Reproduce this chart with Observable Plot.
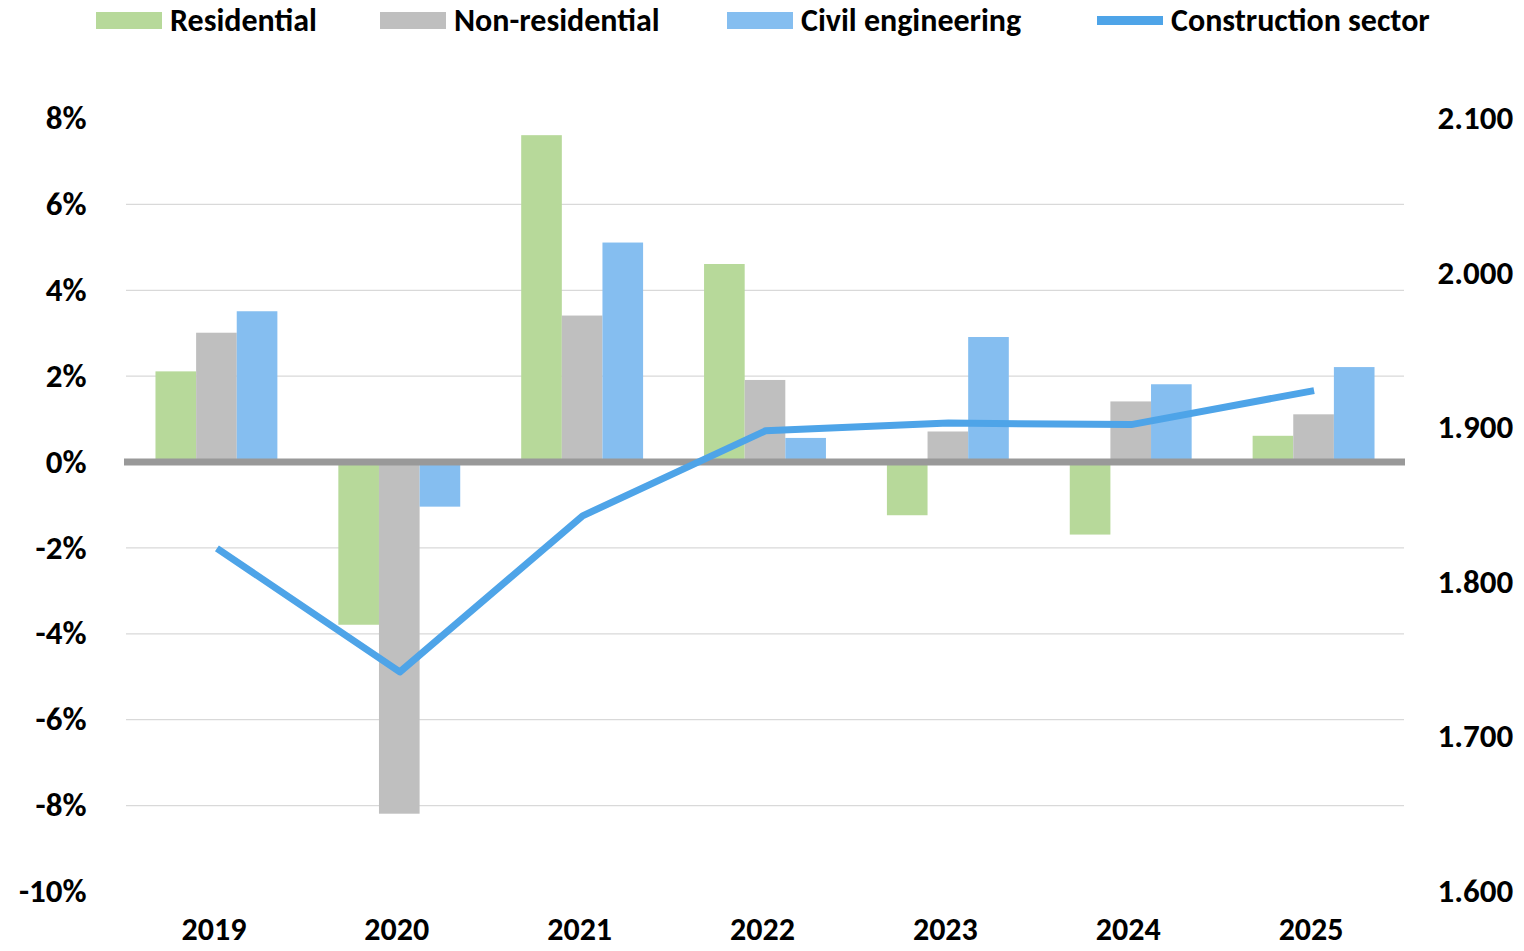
<!DOCTYPE html>
<html>
<head>
<meta charset="utf-8">
<script src="https://cdn.jsdelivr.net/npm/d3@7"></script>
<script src="https://cdn.jsdelivr.net/npm/@observablehq/plot@0.6"></script>
<style>
  html, body { margin: 0; padding: 0; background: #fff; }
  body { width: 1524px; height: 951px; overflow: hidden; font-family: Carlito, Lato, sans-serif; }
  #legend { position: relative; height: 40px; width: 1524px; }
  .item { position: absolute; top: 0; height: 40px; display: flex; align-items: center; font-weight: 700; font-size: 32px; color: #000; white-space: nowrap; }
  .sw { width: 66px; margin-right: 8px; }
</style>
</head>
<body>
<div id="legend"></div>
<div id="chart"></div>
<script>
const years = ["2019", "2020", "2021", "2022", "2023", "2024", "2025"];
const seriesNames = ["Residential", "Non-residential", "Civil engineering"];
const residential = [2.1, -3.8, 7.6, 4.6, -1.25, -1.7, 0.6];
const nonResidential = [3.0, -8.2, 3.4, 1.9, 0.7, 1.4, 1.1];
const civilEngineering = [3.5, -1.05, 5.1, 0.55, 2.9, 1.8, 2.2];
const lineName = "Construction sector";
const constructionSector = [1.822, 1.742, 1.843, 1.898, 1.903, 1.902, 1.924];
const leftTicks = [-10, -8, -6, -4, -2, 0, 2, 4, 6, 8];
const rightTicks = [1.6, 1.7, 1.8, 1.9, 2.0, 2.1];

const colors = ["#b7d99a", "#bfbfbf", "#85bef0"];
const lineColor = "#4ea4e8";

// map right-axis value onto the left-axis scale
const toLeft = v => -10 + (v - 1.6) * 36;
const fromLeft = p => (p + 10) / 36 + 1.6;

const seriesValues = [residential, nonResidential, civilEngineering];
const w = 0.2222;
const bars = [];
years.forEach((yr, i) => {
  seriesValues.forEach((vals, k) => {
    bars.push({i, k, series: seriesNames[k], value: vals[i], x1: i + (k - 1.5) * w, x2: i + (k - 0.5) * w});
  });
});
const lineData = years.map((yr, i) => ({i, value: constructionSector[i], y: toLeft(constructionSector[i])}));

// legend
const legend = document.getElementById("legend");
const legendItems = [
  {name: seriesNames[0], color: colors[0], left: 96, h: 17},
  {name: seriesNames[1], color: colors[1], left: 380, h: 17},
  {name: seriesNames[2], color: colors[2], left: 727, h: 17},
  {name: lineName, color: lineColor, left: 1097, h: 9}
];
legendItems.forEach(it => {
  const d = document.createElement("div");
  d.className = "item";
  d.style.left = it.left + "px";
  const s = document.createElement("span");
  s.className = "sw";
  s.style.height = it.h + "px";
  s.style.background = it.color;
  d.appendChild(s);
  d.appendChild(document.createTextNode(it.name));
  legend.appendChild(d);
});

const chart = Plot.plot({
  width: 1524,
  height: 911,
  marginTop: 78,
  marginBottom: 60,
  marginLeft: 125,
  marginRight: 119,
  style: {fontFamily: "Carlito, Lato, sans-serif", fontSize: "33px", fontWeight: 700, color: "#000", background: "#fff"},
  x: {type: "linear", domain: [-0.5, 6.5]},
  y: {domain: [-10, 8]},
  color: {domain: seriesNames, range: colors},
  marks: [
    Plot.ruleY(leftTicks.filter(d => d !== 0 && d !== 8 && d !== -10), {stroke: "#d9d9d9", strokeWidth: 1.3, insetLeft: 1, insetRight: 1}),
    Plot.rectY(bars, {x1: "x1", x2: "x2", y: "value", fill: "series"}),
    Plot.ruleY([0], {stroke: "#999999", strokeWidth: 7, insetLeft: -1}),
    Plot.line(lineData, {x: "i", y: "y", stroke: lineColor, strokeWidth: 7, strokeLinecap: "butt", strokeLinejoin: "round"}),
    Plot.axisY(leftTicks, {anchor: "left", tickSize: 0, tickPadding: 39, tickFormat: d => d + "%", label: null, fill: "#000"}),
    Plot.axisY(rightTicks.map(toLeft), {anchor: "right", tickSize: 0, tickPadding: 32, tickFormat: d => fromLeft(d).toFixed(3), label: null, fill: "#000"}),
    Plot.axisX(d3.range(years.length), {anchor: "bottom", tickSize: 0, tickPadding: 26, dx: -3, fontSize: 32, tickFormat: i => years[i], label: null, fill: "#000"})
  ]
});
document.getElementById("chart").appendChild(chart);
</script>
</body>
</html>
